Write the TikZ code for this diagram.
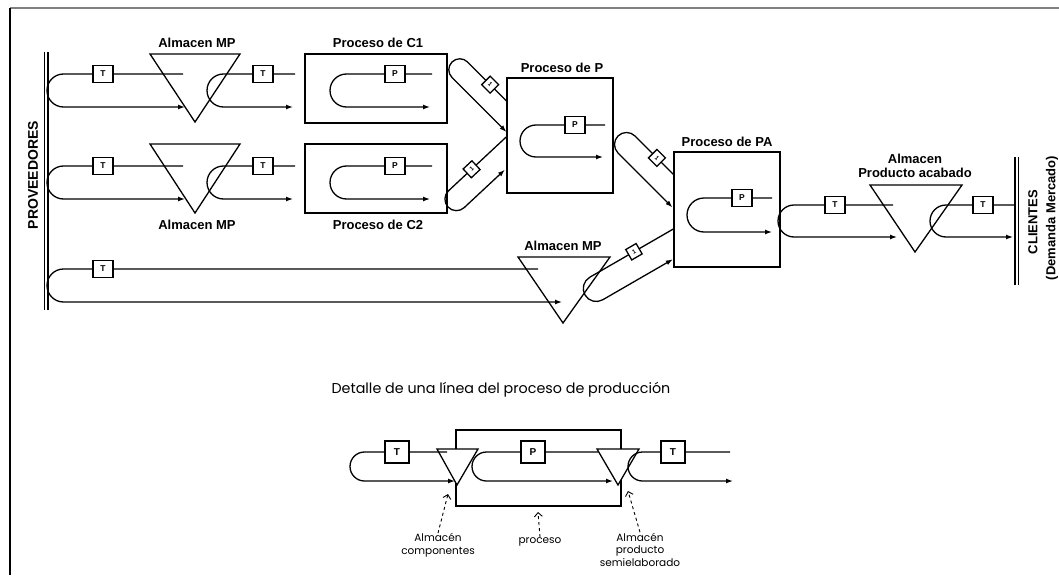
\documentclass[tikz,border=0pt]{standalone}
\usepackage{fontspec}
\setmainfont{Liberation Sans}
\newfontfamily\detfont{Poppins}
\usetikzlibrary{arrows.meta,positioning}

\begin{document}
\begin{tikzpicture}[x=1pt,y=1pt,line width=1.3pt,
	flujo/.style={-{Latex[length=7pt,width=5pt]}},
	caja/.style={draw,fill=white,minimum width=20pt,minimum height=17pt,inner sep=0pt,font=\bfseries\fontsize{8.5}{9}\selectfont},
	cajad/.style={caja,minimum width=24pt,minimum height=22pt,font=\bfseries\fontsize{10}{11}\selectfont},
	rombo/.style={draw,fill=white,minimum size=12pt,inner sep=0pt,font=\bfseries\fontsize{6}{7}\selectfont},
	proc/.style={draw,inner sep=0pt},
	etiq/.style={font=\bfseries\fontsize{13}{14}\selectfont,inner sep=1pt},
	nota/.style={font=\detfont\fontsize{10.5}{12.5}\selectfont,align=center,inner sep=0pt},
	guia/.style={dashed,line width=0.9pt,-{Straight Barb[length=4pt]}}]

	\useasboundingbox (0,0) rectangle (1059,-575);
	\draw[gray,line width=2pt] (10,-8) -- (1059,-8);
	\draw[line width=1.5pt] (10,-8) -- (10,-575);

	% proveedores y clientes
	\draw (44.5,-52) -- (44.5,-310);
	\draw (48,-52) -- (48,-310);
	\node[etiq,rotate=90,font=\bfseries\fontsize{14}{16}\selectfont] (prov) at (33,-175) {PROVEEDORES};
	\draw (1015,-157) -- (1015,-285);
	\draw (1018.5,-157) -- (1018.5,-285);
	\node[etiq,rotate=90] (cli) at (1033,-222) {CLIENTES};
	\node[etiq,rotate=90] (dem) at (1052,-218) {(Demanda Mercado)};

	% almacenes
	\draw (150,-54) -- (240,-54) -- (195,-122) -- cycle;
	\node[etiq] (amp1) at (197,-43) {Almacen MP};
	\draw (150,-144) -- (240,-144) -- (195,-213) -- cycle;
	\node[etiq] (amp2) at (197,-225) {Almacen MP};
	\draw (518,-257) -- (610,-257) -- (563,-323) -- cycle;
	\node[etiq] (amp3) at (563,-246) {Almacen MP};
	\draw (870,-185) -- (962,-185) -- (915,-252) -- cycle;
	\node[etiq,align=center] (apa) at (915,-166) {Almacen\\Producto acabado};

	% procesos
	\node[proc,minimum width=142pt,minimum height=69pt] (c1) at (376,-88.5) {};
	\node[etiq] (lc1) at (378,-43) {Proceso de C1};
	\node[proc,minimum width=142pt,minimum height=69pt] (c2) at (376,-178.5) {};
	\node[etiq] (lc2) at (378,-225) {Proceso de C2};
	\node[proc,minimum width=106pt,minimum height=115pt] (pp) at (560,-135.5) {};
	\node[etiq] (lpp) at (562,-68) {Proceso de P};
	\node[proc,minimum width=106pt,minimum height=115pt] (pa) at (727,-209.5) {};
	\node[etiq] (lpa) at (727,-142) {Proceso de PA};

	% fila 1
	\draw[flujo] (183,-74) -- (63.5,-74) arc[start angle=90,end angle=270,radius=16.5] -- (185,-107);
	\node[caja] (t1) at (103,-74) {T};
	\draw[flujo] (295,-74) -- (223.5,-74) arc[start angle=90,end angle=270,radius=16.5] -- (293,-107);
	\node[caja] (t2) at (263,-74) {T};
	\draw[flujo] (432,-74) -- (346.5,-74) arc[start angle=90,end angle=270,radius=16.5] -- (430,-107);
	\node[caja] (p1) at (395,-74) {P};

	% fila 2
	\draw[flujo] (183,-166) -- (63.5,-166) arc[start angle=90,end angle=270,radius=16.5] -- (185,-199);
	\node[caja] (t3) at (103,-166) {T};
	\draw[flujo] (295,-166) -- (223.5,-166) arc[start angle=90,end angle=270,radius=16.5] -- (293,-199);
	\node[caja] (t4) at (263,-166) {T};
	\draw[flujo] (432,-166) -- (346.5,-166) arc[start angle=90,end angle=270,radius=16.5] -- (430,-199);
	\node[caja] (p2) at (395,-166) {P};

	% fila 3
	\draw[flujo] (538,-269) -- (63.5,-269) arc[start angle=90,end angle=270,radius=16.5] -- (562,-302);
	\node[caja] (t5) at (103,-269) {T};

	% P y PA
	\draw[flujo] (605,-125) -- (536,-125) arc[start angle=90,end angle=270,radius=16] -- (603,-157);
	\node[caja] (p3) at (575,-125) {P};
	\draw[flujo] (772,-198) -- (704,-198) arc[start angle=90,end angle=270,radius=17] -- (772,-232);
	\node[caja] (p4) at (742,-198) {P};
	\draw[flujo] (893,-205) -- (794,-205) arc[start angle=90,end angle=270,radius=16] -- (897,-237);
	\node[caja] (t6) at (835,-205) {T};
	\draw[flujo] (1015,-205) -- (946,-205) arc[start angle=90,end angle=270,radius=16] -- (1013,-237);
	\node[caja] (t7) at (983,-205) {T};

	% tramos inclinados
	\begin{scope}[shift={(452,-62)},rotate=-45]
		\draw[flujo] (67,11) -- (11,11) arc[start angle=90,end angle=270,radius=11] -- (88,-11);
		\node[rombo,rotate=-45] (r1) at (43,11) {1};
	\end{scope}
	\begin{scope}[shift={(448,-207)},rotate=43]
		\draw[flujo] (91,11.5) -- (11.5,11.5) arc[start angle=90,end angle=270,radius=11.5] -- (67,-11.5);
		\node[rombo,rotate=43] (r2) at (43,11.5) {1};
	\end{scope}
	\begin{scope}[shift={(618,-136)},rotate=-45]
		\draw[flujo] (66.5,12) -- (12,12) arc[start angle=90,end angle=270,radius=12] -- (89,-12);
		\node[rombo,rotate=-45] (r3) at (43,12) {1};
	\end{scope}
	\begin{scope}[shift={(585,-295)},rotate=30]
		\draw[flujo] (110,13) -- (13,13) arc[start angle=90,end angle=270,radius=13] -- (94,-13);
		\node[rombo,rotate=30] (r4) at (64,13) {1};
	\end{scope}

	% detalle
	\node[font=\detfont\fontsize{14.3}{16}\selectfont] (tit) at (501,-390) {Detalle de una línea del proceso de producción};
	\draw (456,-430) rectangle (621,-506);
	\draw[fill=white] (437,-449) -- (478,-449) -- (457,-485) -- cycle;
	\draw[fill=white] (597,-449) -- (639,-449) -- (618,-485) -- cycle;
	\draw[flujo] (447,-452) -- (364.5,-452) arc[start angle=90,end angle=270,radius=14.5] -- (455,-481);
	\node[cajad] (td1) at (397,-452) {T};
	\draw[flujo] (598,-452) -- (486.5,-452) arc[start angle=90,end angle=270,radius=14.5] -- (613,-481);
	\node[cajad] (pd) at (533,-452) {P};
	\draw[flujo] (730,-452) -- (642.5,-452) arc[start angle=90,end angle=270,radius=14.5] -- (733,-481);
	\node[cajad] (td2) at (673,-452) {T};

	\node[nota] (ac) at (438,-545.5) {Almacén\\componentes};
	\node[nota] (pr) at (540,-542) {proceso};
	\node[nota] (aps) at (640,-549.5) {Almacén\\producto\\semielaborado};
	\coordinate (vi) at (448,-494);
	\coordinate (vp) at (538,-512);
	\coordinate (vd) at (628,-491);
	\draw[guia] (ac.north) -- (vi);
	\draw[guia] (pr.north) -- (vp);
	\draw[guia] (aps.north) -- (vd);
\end{tikzpicture}
\end{document}
